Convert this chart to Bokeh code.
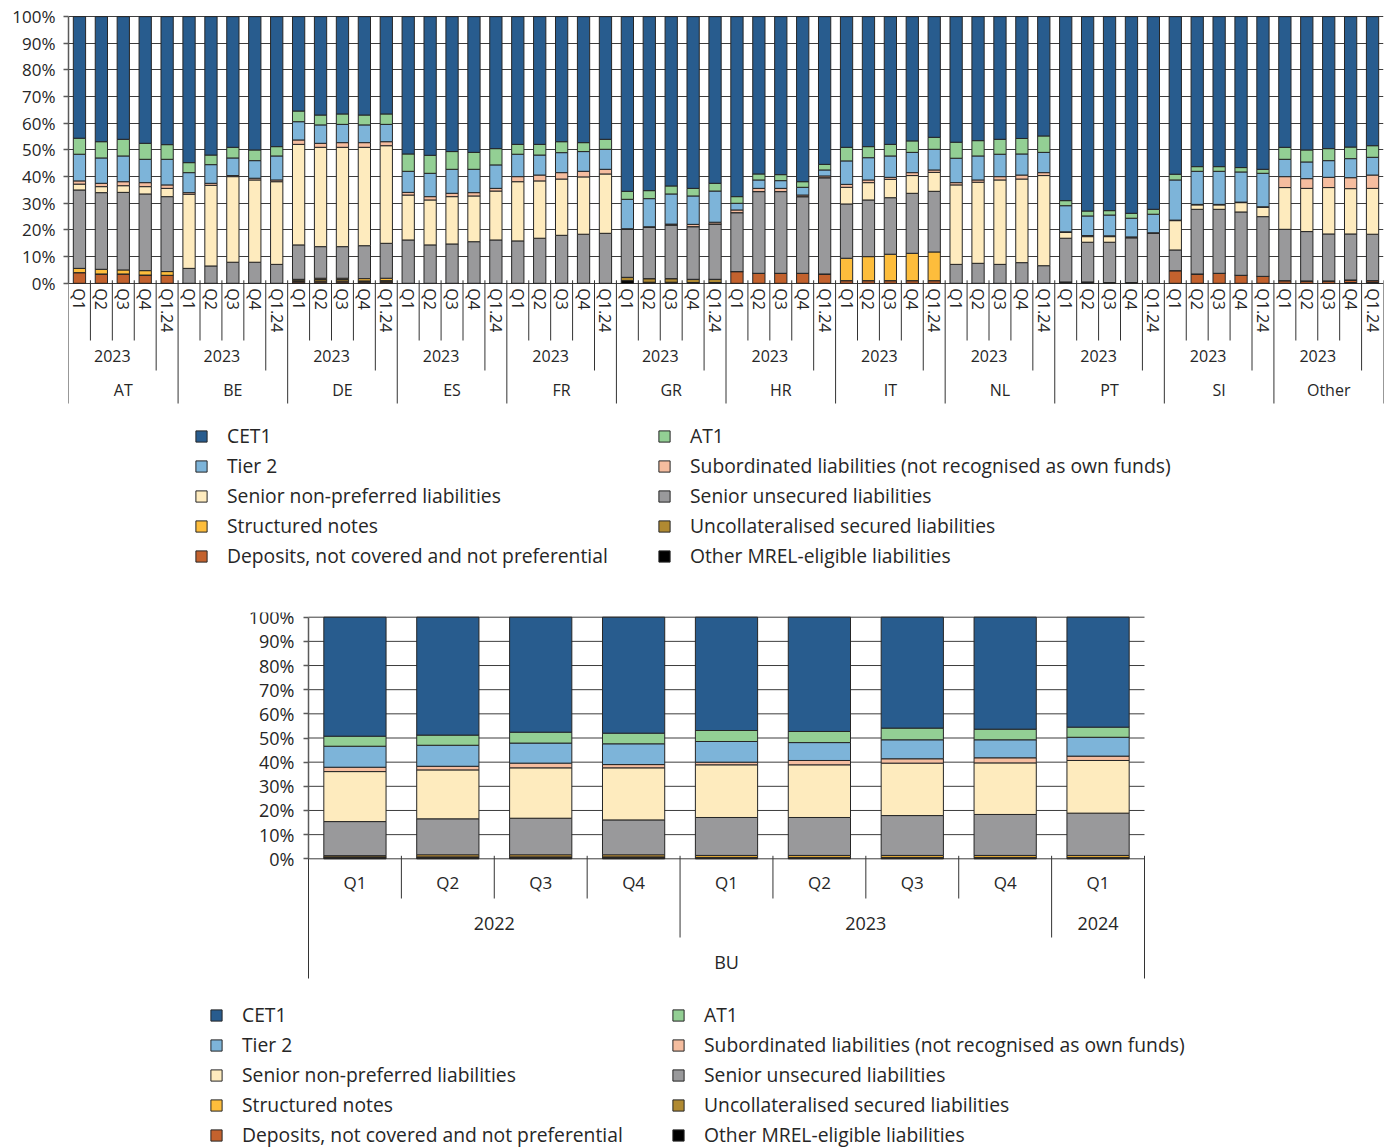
from bokeh.plotting import figure
from bokeh.models import (ColumnDataSource, Range1d, FixedTicker, LinearAxis,
                          PrintfTickFormatter, Legend, LegendItem)
from bokeh.layouts import column
from bokeh.embed import file_html
from bokeh.resources import INLINE

# ---------------------------------------------------------------- data
countries = ["AT", "BE", "DE", "ES", "FR", "GR", "HR", "IT", "NL", "PT", "SI", "Other"]
quarters = ["Q1", "Q2", "Q3", "Q4", "Q1.24"]
quarter_years = ["2023", "2023", "2023", "2023", None]

# series, bottom -> top of the stack; 5 values per country (Q1..Q4 2023, Q1 2024), in %
other_mrel = [0, 0, 0, 0, 0,  0, 0, 0, 0, 0,  0.2, 0.2, 0.2, 0.2, 0.2,  0, 0, 0, 0, 0,
              0, 0, 0, 0, 0,  1.0, 0.4, 0.4, 0.3, 0.3,  0, 0, 0, 0, 0,  0, 0, 0, 0, 0,
              0, 0, 0, 0, 0,  0.5, 0.5, 0.3, 0.3, 0,  0, 0, 0, 0, 0,  0, 0, 0, 0.3, 0.3]
deposits = [4.0, 3.5, 3.5, 3.1, 3.0,  0, 0, 0, 0, 0,  0.5, 0.6, 0.6, 0.4, 0.4,  0, 0, 0, 0, 0,
            0, 0, 0, 0, 0,  0, 0, 0, 0, 0,  4.4, 3.75, 3.75, 3.75, 3.5,  1.0, 1.0, 1.0, 1.0, 1.0,
            0, 0, 0, 0, 0,  0, 0, 0, 0, 0,  4.75, 3.5, 3.75, 3.0, 2.6,  1.0, 0.9, 0.9, 0.95, 0.7]
uncollateralised = [0, 0, 0, 0, 0,  0, 0, 0, 0, 0,  0.5, 0.6, 0.6, 0.3, 0.4,  0, 0, 0, 0, 0,
                    0, 0, 0, 0, 0,  1.25, 1.35, 1.35, 1.2, 1.2,  0, 0, 0, 0, 0,  0, 0, 0, 0, 0,
                    0, 0, 0, 0, 0,  0, 0, 0, 0, 0,  0, 0, 0, 0, 0,  0, 0, 0, 0, 0]
structured = [1.6, 1.75, 1.5, 1.65, 1.4,  0, 0, 0, 0, 0,  0.3, 0.5, 0.5, 0.85, 0.9,  0, 0, 0, 0, 0,
              0, 0, 0, 0, 0,  0, 0, 0, 0, 0,  0, 0, 0, 0, 0,  8.4, 9.0, 9.9, 10.25, 10.75,
              0, 0, 0, 0, 0,  0, 0, 0, 0, 0,  0, 0, 0, 0, 0,  0, 0, 0, 0, 0]
senior_unsecured = [29.4, 28.75, 29.1, 28.75, 28.1,  5.6, 6.5, 7.9, 7.9, 7.1,
                    12.9, 11.85, 11.85, 12.35, 13.1,  16.25, 14.4, 14.75, 15.6, 16.25,
                    15.9, 16.9, 18.0, 18.4, 18.75,  18.0, 19.25, 20.15, 19.75, 20.75,
                    22.1, 30.65, 30.65, 28.75, 36.1,  20.35, 21.25, 21.2, 22.5, 22.75,
                    7.1, 7.5, 7.1, 7.75, 6.6,  16.4, 14.9, 15.1, 16.8, 18.75,
                    7.75, 24.25, 24.0, 23.75, 22.4,  19.25, 18.5, 17.6, 17.25, 17.4]
senior_non_preferred = [2.2, 2.25, 2.5, 2.75, 3.1,  27.8, 30.25, 32.1, 30.85, 31.0,
                        37.7, 37.25, 37.25, 36.9, 36.6,  16.85, 16.85, 17.75, 17.15, 18.35,
                        22.2, 21.5, 21.1, 21.5, 22.25,  0, 0, 0, 0, 0,
                        0, 0, 0, 0, 0,  6.25, 6.5, 6.9, 6.65, 7.1,
                        29.8, 30.4, 31.65, 31.35, 33.8,  2.2, 2.1, 2.1, 0, 0,
                        11.0, 1.65, 1.65, 3.5, 3.5,  15.65, 16.2, 17.4, 17.0, 17.2]
subordinated = [1.2, 1.25, 1.5, 1.5, 1.3,  0.6, 0.75, 0.4, 0.65, 0.65,
                1.65, 1.5, 1.75, 1.75, 1.5,  1.0, 1.25, 1.25, 1.25, 1.0,
                1.9, 2.2, 2.4, 2.1, 1.75,  0.2, 0.2, 0.3, 0.85, 0.65,
                1.0, 1.2, 1.2, 0.6, 0.65,  1.1, 1.0, 0.75, 1.1, 0.9,
                0.85, 0.85, 1.25, 1.5, 1.1,  0.2, 0.4, 0.3, 0.3, 0.2,
                0.2, 0.2, 0.2, 0.2, 0.2,  4.1, 3.65, 3.85, 4.1, 5.0]
tier2 = [10.0, 9.5, 9.65, 8.75, 9.6,  7.5, 7.0, 6.6, 6.6, 9.0,
         6.85, 6.9, 6.85, 6.65, 6.5,  7.9, 8.75, 9.0, 8.75, 8.8,
         8.4, 7.5, 7.5, 7.4, 7.5,  11.05, 10.55, 11.3, 10.65, 11.7,
         2.5, 3.15, 2.9, 2.9, 2.25,  8.8, 8.35, 8.0, 7.6, 7.75,
         9.15, 9.0, 8.4, 7.9, 7.6,  9.8, 7.35, 7.8, 7.0, 6.95,
         15.05, 12.4, 12.4, 11.3, 12.55,  6.5, 6.25, 6.25, 7.15, 6.65]
at1 = [6.0, 6.1, 6.25, 6.0, 5.5,  3.75, 3.6, 4.0, 4.0, 3.5,
       4.0, 3.7, 3.9, 3.7, 3.9,  6.5, 6.75, 6.65, 6.35, 6.1,
       3.7, 4.0, 4.1, 3.35, 3.75,  3.0, 3.0, 3.0, 2.85, 2.9,
       2.5, 2.25, 2.25, 2.1, 2.1,  5.1, 4.15, 4.35, 4.3, 4.5,
       6.0, 5.75, 5.6, 5.8, 6.15,  1.9, 1.85, 1.65, 1.85, 1.85,
       2.15, 1.75, 1.75, 1.65, 1.5,  4.5, 4.5, 4.5, 4.35, 4.35]
cet1 = [45.6, 46.9, 46.0, 47.5, 48.0,  54.75, 51.9, 49.0, 50.0, 48.75,
        35.4, 36.9, 36.5, 36.9, 36.5,  51.5, 52.0, 50.6, 50.9, 49.5,
        47.9, 47.9, 46.9, 47.25, 46.0,  65.5, 65.25, 63.5, 64.4, 62.5,
        67.5, 59.0, 59.25, 61.9, 55.4,  49.0, 48.75, 47.9, 46.6, 45.25,
        47.1, 46.5, 46.0, 45.7, 44.75,  69.0, 72.9, 72.75, 73.75, 72.25,
        59.1, 56.25, 56.25, 56.6, 57.25,  49.0, 50.0, 49.5, 48.9, 48.4]

# Banking Union aggregate
bu_group = "BU"
bu_quarters = ["Q1", "Q2", "Q3", "Q4", "Q1", "Q2", "Q3", "Q4", "Q1"]
bu_years = ["2022", "2022", "2022", "2022", "2023", "2023", "2023", "2023", "2024"]
bu_other_mrel = [0.3, 0.3, 0.3, 0.3, 0.2, 0.2, 0.2, 0.2, 0.2]
bu_deposits = [0.3, 0.3, 0.3, 0.3, 0.2, 0.2, 0.2, 0.2, 0.2]
bu_uncollateralised = [0.2, 0.2, 0.2, 0.2, 0.2, 0.2, 0.2, 0.2, 0.2]
bu_structured = [0.5, 0.85, 0.85, 0.85, 0.8, 0.8, 0.8, 0.8, 0.8]
bu_senior_unsecured = [14.1, 14.9, 15.15, 14.45, 15.7, 15.7, 16.5, 16.95, 17.5]
bu_senior_non_preferred = [20.7, 20.25, 20.85, 21.55, 21.8, 21.8, 21.7, 21.35, 21.8]
bu_subordinated = [1.8, 1.5, 1.95, 1.35, 1.1, 1.8, 1.8, 2.1, 1.8]
bu_tier2 = [8.7, 8.7, 8.3, 8.6, 8.55, 7.4, 7.85, 7.45, 7.8]
bu_at1 = [4.15, 4.2, 4.5, 4.4, 4.55, 4.6, 4.85, 4.4, 4.2]
bu_cet1 = [49.25, 48.8, 47.6, 48.0, 46.9, 47.3, 45.9, 46.35, 45.5]

series_keys = ["other", "dep", "uncol", "struct", "su", "snp", "sub", "t2", "at1", "cet1"]
series_labels = ["Other MREL-eligible liabilities",
                 "Deposits, not covered and not preferential",
                 "Uncollateralised secured liabilities",
                 "Structured notes",
                 "Senior unsecured liabilities",
                 "Senior non-preferred liabilities",
                 "Subordinated liabilities (not recognised as own funds)",
                 "Tier 2", "AT1", "CET1"]
series_colors = ["#000000", "#c3622e", "#b08a32", "#fdbd3c", "#99999b",
                 "#feebbe", "#f5bd9f", "#7db4d9", "#93cf94", "#285c8e"]
legend_col1 = ["cet1", "t2", "snp", "struct", "dep"]
legend_col2 = ["at1", "sub", "su", "uncol", "other"]

top_series = [other_mrel, deposits, uncollateralised, structured, senior_unsecured,
              senior_non_preferred, subordinated, tier2, at1, cet1]
bu_series = [bu_other_mrel, bu_deposits, bu_uncollateralised, bu_structured, bu_senior_unsecured,
             bu_senior_non_preferred, bu_subordinated, bu_tier2, bu_at1, bu_cet1]

# ---------------------------------------------------------------- style
FONT = "Open Sans"
TXT = "#262626"
GRID = "#3d3d3d"
AXIS = "#5a5a5a"
SEP = "#333333"
OUTLINE = "#262626"
LEG_SIZE = "19.3px"

FRAME_LEFT, FRAME_W = 68, 1315      # both figures share the same frame columns


def style_yaxis(ax, size, standoff):
    ax.ticker = FixedTicker(ticks=list(range(0, 101, 10)), minor_ticks=[])
    ax.formatter = PrintfTickFormatter(format="%d%%")
    ax.bounds = (0, 100)
    ax.axis_line_color = AXIS
    ax.axis_line_width = 1.5
    ax.major_tick_line_color = AXIS
    ax.major_tick_line_width = 1.5
    ax.major_tick_out = 5
    ax.major_tick_in = 0
    ax.minor_tick_line_color = None
    ax.major_label_text_font = FONT
    ax.major_label_text_font_size = size
    ax.major_label_text_color = TXT
    ax.major_label_standoff = standoff


def label_axis(fig, ticks, texts, loc, size, standoff, orientation="horizontal"):
    ax = LinearAxis(fixed_location=loc,
                    ticker=FixedTicker(ticks=list(ticks), minor_ticks=[]),
                    major_label_overrides={t: s for t, s in zip(ticks, texts)},
                    major_label_orientation=orientation,
                    major_label_standoff=standoff,
                    major_label_text_font=FONT,
                    major_label_text_font_size=size,
                    major_label_text_color=TXT,
                    axis_line_color=None, major_tick_line_color=None,
                    minor_tick_line_color=None,
                    major_tick_in=0, major_tick_out=0, minor_tick_in=0, minor_tick_out=0)
    fig.add_layout(ax, "below")


def add_legends(fig, rmap, x1, x2, y, spacing):
    for keys, x in ((legend_col1, x1), (legend_col2, x2)):
        items = [LegendItem(label=series_labels[series_keys.index(k)], renderers=[rmap[k]])
                 for k in keys]
        leg = Legend(items=items, location=(x, y), orientation="vertical",
                     glyph_width=14, glyph_height=14, label_height=20, label_width=20,
                     label_standoff=19, spacing=spacing, padding=0, margin=0,
                     border_line_color=None, background_fill_alpha=0,
                     label_text_font=FONT, label_text_font_size=LEG_SIZE,
                     label_text_color=TXT)
        fig.add_layout(leg)


def new_fig(x_range, y_range, frame_h, border_top):
    p = figure(frame_width=FRAME_W, frame_height=frame_h, x_range=x_range, y_range=y_range,
               x_axis_location=None, toolbar_location=None, output_backend="svg",
               min_border_left=FRAME_LEFT, min_border_right=8,
               min_border_top=border_top, min_border_bottom=0)
    p.outline_line_color = None
    p.xgrid.grid_line_color = None
    return p


# ================================================================ top chart
T_PXU = 266.67 / 100.0        # px per percentage point
T_ZERO = 282.8                # page y of 0 %
T_FTOP = 13.0                 # page y of the frame top
T_FH = 565


def tval(page_y):
    return (T_ZERO - page_y) / T_PXU


n_q = len(quarters)
n_top = len(countries) * n_q
top_x = list(range(n_top))
src_top = ColumnDataSource(dict(x=top_x, **dict(zip(series_keys, top_series))))

p1 = new_fig(Range1d(-0.5, n_top - 0.5), Range1d(tval(T_FTOP + T_FH), tval(T_FTOP)),
             T_FH, int(T_FTOP))
p1.ygrid.ticker = FixedTicker(ticks=list(range(0, 101, 10)), minor_ticks=[])
p1.ygrid.grid_line_color = GRID
style_yaxis(p1.yaxis[0], "17px", 8)

r1 = p1.vbar_stack(series_keys, x="x", width=0.56, source=src_top,
                   fill_color=series_colors, line_color=OUTLINE, line_width=1)
rmap1 = dict(zip(series_keys, r1))

# group separators below the axis
sx, sy1 = [], []
for b in range(n_top + 1):
    pos = b % n_q
    if pos == 0:
        depth = tval(403)
    elif quarter_years[pos - 1] != quarter_years[pos]:
        depth = tval(370)
    else:
        depth = tval(340)
    sx.append(b - 0.5)
    sy1.append(depth)
p1.segment(x0=sx, x1=sx, y0=[tval(T_ZERO - 3)] * len(sx), y1=sy1,
           line_color=SEP, line_width=1)

# axis label levels
label_axis(p1, top_x, [quarters[i % n_q] for i in top_x], 0, "16px", 5, "vertical")
yr_ticks, yr_text = [], []
for ci in range(len(countries)):
    for yr in dict.fromkeys(y for y in quarter_years if y is not None):
        idx = [ci * n_q + k for k, y in enumerate(quarter_years) if y == yr]
        yr_ticks.append(sum(idx) / len(idx))
        yr_text.append(yr)
label_axis(p1, yr_ticks, yr_text, tval(349), "16px", 0)
label_axis(p1, [ci * n_q + (n_q - 1) / 2 for ci in range(len(countries))], countries,
           tval(378), "16px", 0)

add_legends(p1, rmap1, 194 - FRAME_LEFT, 657 - FRAME_LEFT, 9, 3)

# ================================================================ bottom chart
B_PXU = 241.6 / 100.0
B_ZERO = 858.3
B_FTOP = 612.0
B_FH = 1148 - 612
B_X0, B_X1 = 308.0, 1144.0    # page x of the first / last slot edge

n_bu = len(bu_quarters)
bu_x = list(range(n_bu))
slot = (B_X1 - B_X0) / n_bu
bx_start = -0.5 - (B_X0 - FRAME_LEFT) / slot
bx_end = n_bu - 0.5 + (FRAME_LEFT + FRAME_W - B_X1) / slot


def bval(page_y):
    return (B_ZERO - page_y) / B_PXU


src_bu = ColumnDataSource(dict(x=bu_x, **dict(zip(series_keys, bu_series))))

p2 = new_fig(Range1d(bx_start, bx_end), Range1d(bval(B_FTOP + B_FH), bval(B_FTOP)),
             B_FH, int(B_FTOP - (T_FTOP + T_FH)))
p2.ygrid.grid_line_color = None
ya2 = p2.yaxis[0]
ya2.fixed_location = -0.5
style_yaxis(ya2, "18px", 9)

# horizontal grid restricted to the bar area
grid_vals = list(range(0, 101, 10))
p2.segment(x0=[-0.5] * len(grid_vals), x1=[n_bu - 0.5] * len(grid_vals),
           y0=grid_vals, y1=grid_vals, line_color=GRID, line_width=1, level="underlay")

r2 = p2.vbar_stack(series_keys, x="x", width=0.67, source=src_bu,
                   fill_color=series_colors, line_color=OUTLINE, line_width=1)
rmap2 = dict(zip(series_keys, r2))

bsx, bsy1 = [], []
for b in range(n_bu + 1):
    if b == 0 or b == n_bu:
        depth = bval(978)
    elif bu_years[b - 1] != bu_years[b]:
        depth = bval(937)
    else:
        depth = bval(898)
    bsx.append(b - 0.5)
    bsy1.append(depth)
p2.segment(x0=bsx, x1=bsx, y0=[bval(B_ZERO - 3)] * len(bsx), y1=bsy1,
           line_color=SEP, line_width=1)

label_axis(p2, bu_x, bu_quarters, 0, "17px", 12)
byt, byl = [], []
for yr in dict.fromkeys(bu_years):
    idx = [i for i, y in enumerate(bu_years) if y == yr]
    byt.append(sum(idx) / len(idx))
    byl.append(yr)
label_axis(p2, byt, byl, bval(916), "18px", 0)
label_axis(p2, [(n_bu - 1) / 2], [bu_group], bval(949), "18px", 0)

add_legends(p2, rmap2, 209 - FRAME_LEFT, 671 - FRAME_LEFT, 0, 3)

layout = column(p1, p2)
open("out.html", "w").write(file_html(layout, INLINE))
